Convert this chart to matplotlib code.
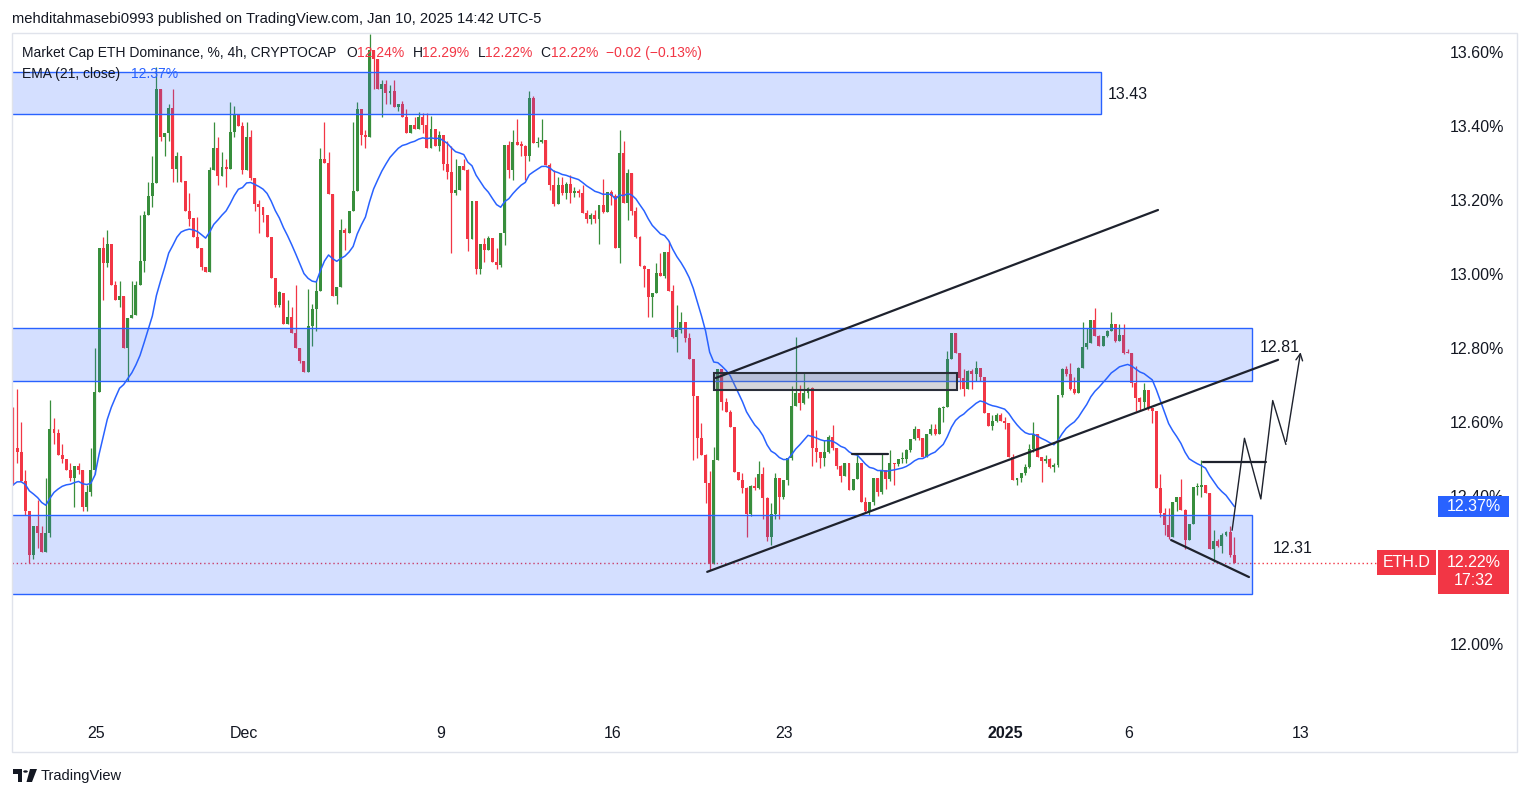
import numpy as np
import pandas as pd
import matplotlib
matplotlib.use("Agg")
import matplotlib.pyplot as plt
from matplotlib.patches import Rectangle, Polygon, Circle

plt.rcParams['font.family'] = ['Liberation Sans', 'DejaVu Sans']

# ---- data (4h candles, ETH.D) ----
START = pd.Timestamp('2024-11-21 15:00')
first_open = 12.62
closes = [
    12.53, 12.52, 12.44, 12.36, 12.24, 12.32, 12.30, 12.25, 12.30, 12.58,
    12.57, 12.51, 12.50, 12.47, 12.45, 12.48, 12.47, 12.37, 12.41, 12.47,
    12.68, 13.07, 13.03, 13.08, 12.97, 12.93, 12.94, 12.80, 12.88, 12.89,
    12.97, 13.035, 13.16, 13.21, 13.245, 13.50, 13.37, 13.38, 13.45, 13.285,
    13.32, 13.25, 13.17, 13.15, 13.10, 13.07, 13.02, 13.005, 13.28, 13.34,
    13.265, 13.29, 13.285, 13.385, 13.43, 13.40, 13.28, 13.37, 13.26, 13.19,
    13.18, 13.16, 13.10, 12.99, 12.915, 12.95, 12.865, 12.885, 12.84, 12.80,
    12.765, 12.735, 12.86, 12.905, 12.955, 13.31, 13.30, 13.215, 12.94, 12.965,
    13.12, 13.11, 13.17, 13.225, 13.445, 13.375, 13.37, 13.605, 13.58, 13.50,
    13.513, 13.49, 13.494, 13.452, 13.459, 13.425, 13.382, 13.404, 13.392, 13.423,
    13.403, 13.341, 13.391, 13.347, 13.376, 13.297, 13.277, 13.22, 13.227, 13.292,
    13.281, 13.095, 13.196, 13.014, 13.081, 13.065, 13.098, 13.033, 13.023, 13.11,
    13.349, 13.281, 13.357, 13.349, 13.347, 13.32, 13.477, 13.355, 13.357, 13.362,
    13.295, 13.24, 13.189, 13.24, 13.218, 13.243, 13.22, 13.222, 13.22, 13.166,
    13.148, 13.16, 13.148, 13.186, 13.168, 13.221, 13.211, 13.07, 13.328, 13.193,
    13.274, 13.171, 13.101, 13.022, 13.013, 12.937, 12.95, 13.002, 12.995, 13.059,
    12.955, 12.831, 12.849, 12.871, 12.826, 12.771, 12.671, 12.558, 12.511, 12.436,
    12.215, 12.496, 12.742, 12.655, 12.628, 12.587, 12.466, 12.443, 12.421, 12.351,
    12.427, 12.421, 12.46, 12.394, 12.29, 12.351, 12.448, 12.398, 12.443, 12.502,
    12.643, 12.679, 12.652, 12.679, 12.691, 12.529, 12.52, 12.503, 12.518, 12.56,
    12.529, 12.481, 12.455, 12.488, 12.416, 12.446, 12.488, 12.385, 12.36, 12.385,
    12.448, 12.41, 12.47, 12.445, 12.49, 12.487, 12.50, 12.50, 12.524, 12.554,
    12.58, 12.556, 12.506, 12.567, 12.58, 12.567, 12.637, 12.64, 12.77, 12.841,
    12.787, 12.718, 12.69, 12.739, 12.73, 12.745, 12.721, 12.625, 12.589, 12.604,
    12.619, 12.604, 12.598, 12.506, 12.443, 12.45, 12.461, 12.479, 12.526, 12.568,
    12.506, 12.495, 12.499, 12.479, 12.484, 12.673, 12.742, 12.731, 12.688, 12.679,
    12.745, 12.802, 12.813, 12.876, 12.832, 12.805, 12.832, 12.847, 12.865, 12.82,
    12.835, 12.787, 12.786, 12.706, 12.664, 12.655, 12.687, 12.637, 12.631, 12.422,
    12.353, 12.322, 12.288, 12.383, 12.398, 12.362, 12.281, 12.323, 12.423, 12.423,
    12.43, 12.407, 12.256, 12.279, 12.265, 12.295, 12.304, 12.24, 12.22,
]
highs = [
    12.64, 12.69, 12.60, 12.47, 12.36, 12.32, 12.39, 12.32, 12.45, 12.66,
    12.61, 12.58, 12.54, 12.50, 12.49, 12.48, 12.49, 12.47, 12.43, 12.53,
    12.80, 13.07, 13.10, 13.12, 13.08, 12.98, 12.98, 12.94, 12.88, 12.98,
    12.98, 13.16, 13.17, 13.25, 13.32, 13.56, 13.50, 13.38, 13.46, 13.50,
    13.33, 13.32, 13.25, 13.22, 13.15, 13.155, 13.07, 13.02, 13.29, 13.41,
    13.37, 13.33, 13.31, 13.465, 13.455, 13.43, 13.41, 13.41, 13.39, 13.26,
    13.20, 13.18, 13.16, 13.10, 12.99, 12.955, 12.95, 12.93, 12.91, 12.97,
    12.80, 12.765, 12.96, 12.92, 12.985, 13.34, 13.41, 13.33, 13.215, 12.965,
    13.15, 13.125, 13.17, 13.41, 13.465, 13.445, 13.39, 13.65, 13.605, 13.58,
    13.524, 13.524, 13.51, 13.524, 13.46, 13.467, 13.445, 13.404, 13.423, 13.438,
    13.434, 13.434, 13.427, 13.391, 13.387, 13.376, 13.36, 13.346, 13.312, 13.292,
    13.31, 13.283, 13.197, 13.196, 13.081, 13.096, 13.103, 13.098, 13.07, 13.11,
    13.349, 13.36, 13.389, 13.419, 13.36, 13.35, 13.495, 13.48, 13.37, 13.42,
    13.362, 13.30, 13.28, 13.263, 13.261, 13.25, 13.267, 13.236, 13.23, 13.24,
    13.172, 13.166, 13.173, 13.186, 13.257, 13.221, 13.227, 13.216, 13.389, 13.36,
    13.285, 13.274, 13.18, 13.103, 13.024, 13.013, 12.95, 13.031, 13.058, 13.059,
    13.09, 12.97, 12.916, 12.896, 12.871, 12.84, 12.771, 12.671, 12.596, 12.513,
    12.467, 12.532, 12.742, 12.742, 12.664, 12.632, 12.587, 12.466, 12.461, 12.425,
    12.43, 12.452, 12.494, 12.479, 12.398, 12.382, 12.461, 12.448, 12.443, 12.502,
    12.697, 12.829, 12.70, 12.732, 12.695, 12.694, 12.578, 12.52, 12.551, 12.566,
    12.592, 12.531, 12.484, 12.488, 12.488, 12.446, 12.515, 12.488, 12.397, 12.385,
    12.448, 12.45, 12.513, 12.47, 12.525, 12.49, 12.50, 12.52, 12.526, 12.554,
    12.588, 12.58, 12.556, 12.567, 12.594, 12.594, 12.64, 12.643, 12.792, 12.841,
    12.841, 12.787, 12.742, 12.74, 12.742, 12.765, 12.745, 12.721, 12.625, 12.619,
    12.623, 12.623, 12.613, 12.598, 12.513, 12.45, 12.461, 12.486, 12.54, 12.599,
    12.568, 12.506, 12.51, 12.504, 12.488, 12.673, 12.745, 12.751, 12.76, 12.721,
    12.75, 12.871, 12.853, 12.876, 12.907, 12.835, 12.832, 12.849, 12.896, 12.865,
    12.866, 12.865, 12.796, 12.787, 12.751, 12.667, 12.705, 12.687, 12.638, 12.631,
    12.46, 12.367, 12.367, 12.383, 12.398, 12.446, 12.364, 12.323, 12.423, 12.436,
    12.497, 12.43, 12.407, 12.308, 12.283, 12.299, 12.306, 12.319, 12.29,
]
lows = [
    12.43, 12.49, 12.44, 12.35, 12.22, 12.23, 12.26, 12.25, 12.25, 12.29,
    12.54, 12.51, 12.49, 12.47, 12.44, 12.37, 12.46, 12.36, 12.36, 12.40,
    12.46, 12.68, 12.93, 13.02, 12.97, 12.93, 12.91, 12.80, 12.71, 12.88,
    12.89, 13.005, 13.005, 13.16, 13.18, 13.245, 13.36, 13.32, 13.36, 13.25,
    13.25, 13.25, 13.17, 13.13, 13.10, 13.07, 13.01, 13.005, 13.005, 13.28,
    13.24, 13.265, 13.235, 13.285, 13.37, 13.40, 13.27, 13.28, 13.255, 13.17,
    13.11, 13.14, 13.10, 12.99, 12.91, 12.91, 12.865, 12.865, 12.84, 12.80,
    12.76, 12.735, 12.735, 12.805, 12.845, 12.955, 13.30, 13.215, 12.94, 12.92,
    12.965, 13.065, 13.11, 13.17, 13.225, 13.35, 13.34, 13.37, 13.50, 13.50,
    13.425, 13.46, 13.46, 13.452, 13.44, 13.425, 13.382, 13.382, 13.392, 13.392,
    13.38, 13.341, 13.341, 13.347, 13.333, 13.28, 13.258, 13.056, 13.213, 13.227,
    13.281, 13.063, 13.095, 13.0, 13.0, 13.033, 13.065, 13.033, 13.013, 13.02,
    13.078, 13.26, 13.254, 13.349, 13.32, 13.254, 13.306, 13.355, 13.344, 13.355,
    13.295, 13.227, 13.184, 13.189, 13.213, 13.202, 13.193, 13.207, 13.207, 13.164,
    13.139, 13.135, 13.139, 13.08, 13.164, 13.168, 13.186, 13.07, 13.03, 13.193,
    13.146, 13.16, 13.097, 13.022, 12.966, 12.883, 12.885, 12.948, 12.995, 12.988,
    12.955, 12.826, 12.788, 12.84, 12.817, 12.771, 12.497, 12.504, 12.511, 12.38,
    12.20, 12.215, 12.496, 12.632, 12.628, 12.587, 12.466, 12.443, 12.407, 12.29,
    12.346, 12.416, 12.418, 12.337, 12.279, 12.267, 12.337, 12.337, 12.393, 12.43,
    12.497, 12.643, 12.632, 12.649, 12.664, 12.482, 12.493, 12.475, 12.482, 12.515,
    12.524, 12.472, 12.439, 12.455, 12.416, 12.416, 12.446, 12.385, 12.353, 12.349,
    12.375, 12.40, 12.405, 12.42, 12.44, 12.43, 12.48, 12.49, 12.49, 12.52,
    12.55, 12.55, 12.505, 12.505, 12.565, 12.565, 12.567, 12.60, 12.64, 12.77,
    12.787, 12.69, 12.67, 12.688, 12.69, 12.71, 12.71, 12.625, 12.589, 12.578,
    12.601, 12.604, 12.58, 12.506, 12.443, 12.431, 12.439, 12.458, 12.476, 12.52,
    12.506, 12.439, 12.488, 12.477, 12.466, 12.479, 12.668, 12.724, 12.686, 12.676,
    12.679, 12.745, 12.796, 12.813, 12.832, 12.805, 12.805, 12.83, 12.845, 12.817,
    12.82, 12.785, 12.786, 12.694, 12.63, 12.63, 12.637, 12.632, 12.598, 12.422,
    12.344, 12.295, 12.283, 12.288, 12.36, 12.362, 12.258, 12.281, 12.323, 12.403,
    12.398, 12.407, 12.256, 12.222, 12.263, 12.247, 12.292, 12.234, 12.22,
]
EMA_SEED = 12.42  # EMA value at the left edge of the chart

tick_dates = ['2024-11-25', '2024-12-01', '2024-12-09', '2024-12-16',
              '2024-12-23', '2025-01-01', '2025-01-06', '2025-01-13']
tick_labels = ['25', 'Dec', '9', '16', '23', '2025', '6', '13']
# 12.20% sits under the ETH.D price label, so it is not shown
price_ticks = [12.0, 12.4, 12.6, 12.8, 13.0, 13.2, 13.4, 13.6]
countdown = '17:32'

# drawings (bar index, price)
zone_x1 = [265.5, 302.3, 302.3]
zone_lo = [13.432, 12.711, 12.135]
zone_hi = [13.546, 12.854, 12.349]
zone_text = ['13.43', '12.81', '12.31']
zone_text_x = [267.2, 304.3, 307.5]
zone_text_y = [13.486, 12.80, 12.259]
grey_box = (171.1, 230.4, 12.686, 12.732)
trend_lines = [((171.5, 12.719), (279.4, 13.173)),
               ((169.4, 12.195), (308.7, 12.768)),
               ((204.7, 12.514), (213.5, 12.514)),
               ((282.6, 12.281), (301.6, 12.181)),
               ((290.4, 12.492), (305.8, 12.492))]
path_x = [297.5, 300.5, 304.5, 307.4, 310.6, 314.3]
path_y = [12.308, 12.556, 12.392, 12.658, 12.54, 12.796]

GREEN, RED, BLUE, INK = '#388e3c', '#f23645', '#2962ff', '#131722'
W, H = 1530, 798

fig = plt.figure(figsize=(W / 100, H / 100), dpi=100)
ax = fig.add_axes([12 / W, (H - 714) / H, (1437 - 12) / W, (714 - 33) / H])
for s in ax.spines.values():
    s.set_visible(False)

n = len(closes)
x = np.arange(n)
c = np.array(closes)
o = np.r_[first_open, c[:-1]]
hi = np.maximum(np.array(highs), np.maximum(o, c))
lo = np.minimum(np.array(lows), np.minimum(o, c))
col = np.where(c >= o, GREEN, RED)

ax.vlines(x, lo, hi, colors=col, lw=0.9, zorder=3)
ax.bar(x, np.maximum(np.abs(c - o), 0.003), width=0.72, bottom=np.minimum(o, c),
       color=col, lw=0, zorder=3)

ema = pd.Series([EMA_SEED] + closes).ewm(span=21, adjust=False).mean().to_numpy()[1:]
ax.plot(x, ema, color=BLUE, lw=1.1, zorder=4)

# zones
for x1, y0, y1 in zip(zone_x1, zone_lo, zone_hi):
    ax.add_patch(Rectangle((-30, y0), x1 + 30, y1 - y0, facecolor=(41/255, 98/255, 1, 0.2),
                           edgecolor=BLUE, lw=1, zorder=5))
for t, tx, ty in zip(zone_text, zone_text_x, zone_text_y):
    ax.text(tx, ty, t, fontsize=11.5, color=INK, va='center', ha='left', zorder=8)

gx0, gx1, gy0, gy1 = grey_box
ax.add_patch(Rectangle((gx0, gy0), gx1 - gx0, gy1 - gy0, facecolor=(0.47, 0.48, 0.53, 0.3),
                       edgecolor='#2a2e39', lw=1.5, zorder=6))

for (xa, ya), (xb, yb) in trend_lines:
    ax.plot([xa, xb], [ya, yb], color='#1e222d', lw=1.6, solid_capstyle='round', zorder=7)
ax.plot(path_x[:-1], path_y[:-1], color='#1e222d', lw=1.0, zorder=7)
ax.annotate('', xy=(path_x[-1], path_y[-1]), xytext=(path_x[-2], path_y[-2]),
            arrowprops=dict(arrowstyle='->', color='#1e222d', lw=1.0, mutation_scale=12), zorder=7)

ax.axhline(c[-1], color=RED, lw=1, linestyle=(0, (1, 2)), zorder=4)

ax.set_xlim((12 - 13) / 4.098, (1437 - 13) / 4.098)
ax.set_ylim(13.60 - (714 - 52) / 370, 13.60 - (33 - 52) / 370)

tick_pos = [(pd.Timestamp(d) - START) / pd.Timedelta('4h') for d in tick_dates]
ax.set_xticks(tick_pos, tick_labels)
for lab in ax.get_xticklabels():
    if lab.get_text() == '2025':
        lab.set_fontweight('bold')
ax.tick_params(axis='x', length=0, pad=9, labelsize=11.5, colors=INK)
ax.yaxis.tick_right()
ax.set_yticks(price_ticks, [f'{v:.2f}%' for v in price_ticks])
ax.tick_params(axis='y', length=0, pad=9.5, labelsize=11.5, colors=INK)

# price scale labels
ytr = ax.get_yaxis_transform()
axw = 1437 - 12
def px2ax(px):
    return (px - 12) / axw
pp = 1 / 370  # price per pixel
ax.add_patch(Rectangle((px2ax(1438), ema[-1] - 10.5 * pp), (1509 - 1438) / axw, 21 * pp,
                       transform=ytr, facecolor=BLUE, lw=0, clip_on=False, zorder=10))
ax.text(px2ax(1473.5), ema[-1], f'{ema[-1]:.2f}%', transform=ytr, color='white', fontsize=11.5,
        ha='center', va='center', clip_on=False, zorder=11)
ax.add_patch(Rectangle((px2ax(1438), c[-1] - 31 * pp), (1509 - 1438) / axw, 44 * pp,
                       transform=ytr, facecolor=RED, lw=0, clip_on=False, zorder=10))
ax.text(px2ax(1473.5), c[-1] - 9 * pp, f'{c[-1]:.2f}%\n{countdown}', transform=ytr, color='white',
        fontsize=11.5, ha='center', va='center', linespacing=1.25, clip_on=False, zorder=11)
ax.add_patch(Rectangle((px2ax(1377), c[-1] - 12 * pp), (1436 - 1377) / axw, 25 * pp,
                       transform=ytr, facecolor=RED, lw=0, clip_on=False, zorder=10))
ax.text(px2ax(1406.5), c[-1] + 0.5 * pp, 'ETH.D', transform=ytr, color='white', fontsize=11.5,
        ha='center', va='center', clip_on=False, zorder=11)

# outer frame
fig.add_artist(Rectangle((12 / W, 1 - 752 / H), (1517 - 12) / W, (752 - 33) / H,
                         transform=fig.transFigure, fill=False, ec='#e0e3eb', lw=1))

# header / legend text
renderer = fig.canvas.get_renderer()
def text_row(x_px, y_px, parts, size):
    for s, colr, gap in parts:
        x_px += gap
        t = fig.text(x_px / W, 1 - y_px / H, s, color=colr, fontsize=size, va='center', ha='left', zorder=12)
        x_px = t.get_window_extent(renderer=renderer).x1

text_row(12, 19, [('mehditahmasebi0993 published on TradingView.com, Jan 10, 2025 14:42 UTC-5', INK, 0)], 10.6)
text_row(22, 53, [('Market Cap ETH Dominance, %, 4h, CRYPTOCAP', INK, 0),
                  ('O', INK, 10), ('12.24%', RED, 0),
                  ('H', INK, 8), ('12.29%', RED, 0),
                  ('L', INK, 8), ('12.22%', RED, 0),
                  ('C', INK, 8), ('12.22%', RED, 0),
                  ('\u22120.02 (\u22120.13%)', RED, 8)], 10)
text_row(22, 74, [('EMA (21, close)', INK, 0), (f'{ema[-1]:.2f}%', BLUE, 11)], 10)

# TradingView logo + name
fig.add_artist(Polygon([(13 / W, 1 - 769 / H), (22 / W, 1 - 769 / H), (22 / W, 1 - 782 / H),
                        (17.5 / W, 1 - 782 / H), (17.5 / W, 1 - 773.5 / H), (13 / W, 1 - 773.5 / H)],
                       closed=True, transform=fig.transFigure, fc=INK, lw=0))
fig.add_artist(Circle((25.5 / W, 1 - 771.5 / H), 2.3 / W, transform=fig.transFigure, fc=INK, lw=0))
fig.add_artist(Polygon([(30 / W, 1 - 769 / H), (37 / W, 1 - 769 / H), (32 / W, 1 - 782 / H),
                        (26.5 / W, 1 - 782 / H)], closed=True, transform=fig.transFigure, fc=INK, lw=0))
fig.text(41 / W, 1 - 776 / H, 'TradingView', fontsize=10.5, color=INK, va='center', ha='left')

fig.savefig('out.png', dpi=100, facecolor='white')
